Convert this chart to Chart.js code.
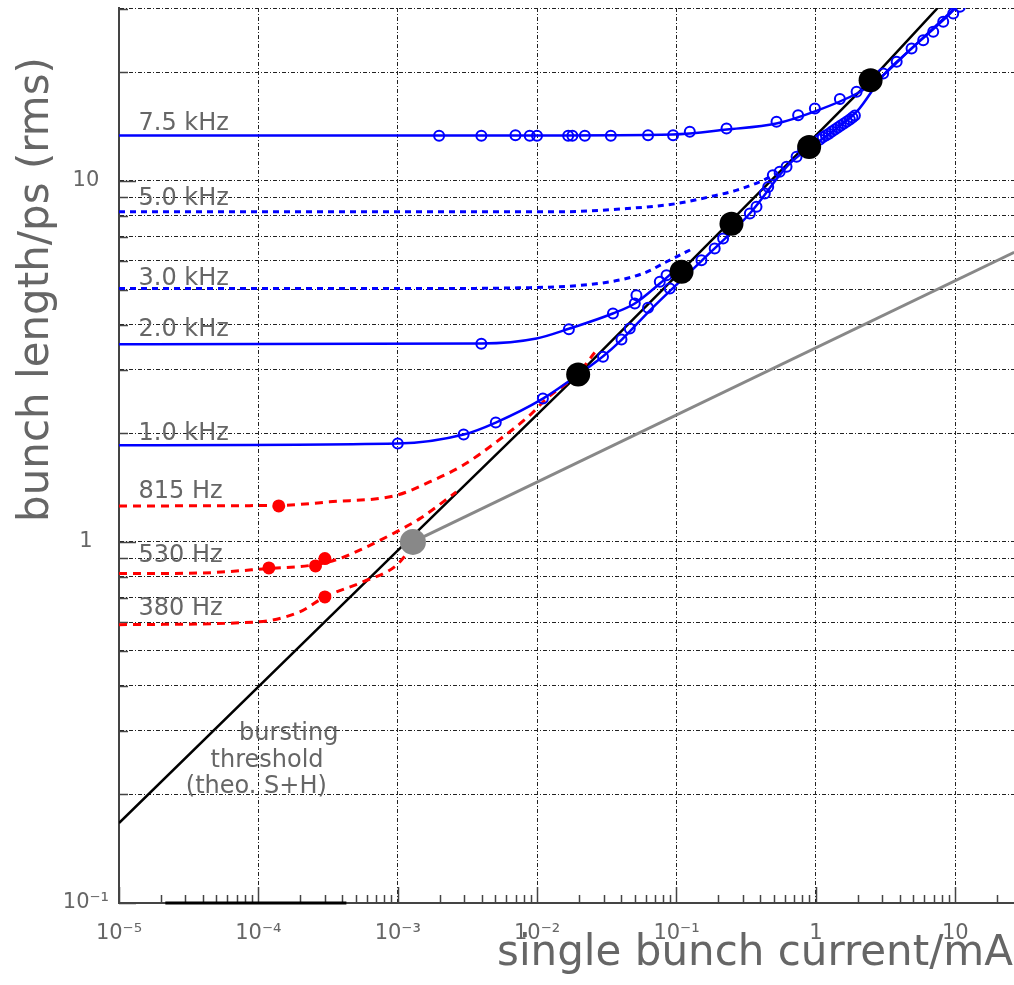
<!DOCTYPE html>
<html lang="en">
<head>
    <meta charset="UTF-8">
    <title>Bunch length vs single bunch current</title>
    <script src="https://cdn.jsdelivr.net/npm/chart.js"></script>
    <style>
        body { margin: 0; background: #fff; overflow: hidden; }
        .chart-box { width: 1014px; height: 985px; position: relative; }
    </style>
</head>
<body>
<div class="chart-box"><canvas id="bunchChart"></canvas></div>
<script>
    // axis ticks
    const xDecades = [1e-5, 1e-4, 1e-3, 1e-2, 1e-1, 1, 10];
    const xTickLabels = ['10⁻⁵', '10⁻⁴', '10⁻³', '10⁻²', '10⁻¹', '1', '10'];
    const yGridValues = [0.1, 0.2, 0.3, 0.4, 0.5, 0.6, 0.7, 0.8, 0.9,
                         1, 2, 3, 4, 5, 6, 7, 8, 9, 10, 20, 30];
    const yDecades = [0.1, 1, 10];
    const yTickLabels = ['10⁻¹', '1', '10'];

    // fitted curves, [current mA, bunch length ps]
    const curve7500 = [[1e-5, 13.35], [0.01, 13.36], [0.094, 13.44], [0.23, 13.87], [0.52, 14.41],
                       [1.02, 15.65], [1.97, 17.45], [2.57, 18.6], [3.08, 19.7], [4.89, 23.3],
                       [8.16, 27.8], [11.2, 31.4]];
    const curve5000 = [[1e-5, 8.21], [0.0145, 8.21], [0.044, 8.38], [0.1005, 8.65], [0.173, 9.03],
                       [0.271, 9.42], [0.396, 9.94], [0.508, 10.41]];
    const curve3000 = [[1e-5, 5.03], [1e-3, 5.03], [8.9e-3, 5.06], [0.0332, 5.25], [0.0576, 5.54],
                       [0.0895, 6.03], [0.131, 6.49]];
    const curve2000 = [[1e-5, 3.527], [4.0e-3, 3.543], [9.9e-3, 3.658], [0.0171, 3.898], [0.0349, 4.29],
                       [0.0502, 4.573], [0.0759, 5.194], [0.1005, 5.716]];
    const curve1000 = [[1e-5, 1.852], [1e-3, 1.872], [2.97e-3, 1.983], [5.05e-3, 2.141], [0.011, 2.494],
                       [0.0197, 2.906], [0.0296, 3.262], [0.0405, 3.634], [0.0643, 4.372], [0.152, 6.014],
                       [0.336, 8.12], [0.651, 11.17], [1.12, 13.1], [1.97, 15.56], [3.08, 19.7],
                       [4.89, 23.3], [11.2, 31.4]];
    const curve815 = [[1e-5, 1.258], [1.4e-4, 1.262], [3.24e-4, 1.291], [9.77e-4, 1.346], [1.69e-3, 1.466],
                      [2.94e-3, 1.63], [5.1e-3, 1.892], [8.85e-3, 2.242], [0.0117, 2.494], [0.0197, 2.93],
                      [0.0259, 3.347]];
    const curve530 = [[1e-5, 0.817], [3.78e-5, 0.82], [1.19e-4, 0.844], [2.57e-4, 0.865], [3.83e-4, 0.899],
                      [5.62e-4, 0.958], [9.77e-4, 1.066], [1.44e-3, 1.16], [2.63e-3, 1.375]];
    const curve380 = [[1e-5, 0.59], [9.66e-5, 0.6], [1.98e-4, 0.64], [3.0e-4, 0.704], [5.62e-4, 0.775],
                      [9.77e-4, 0.861], [1.32e-3, 0.989]];
    const thresholdLine = [[1e-5, 0.1665], [9.77e-4, 0.938], [0.0197, 2.906], [2.48, 19.0], [7.77, 30.6]];
    const grayLine = [[1.285e-3, 1.0], [26.5, 6.34]];
    const bottomBar = [[2.15e-5, 0.1], [4.28e-4, 0.1]];

    // measured points
    const bluePoints = [
        [1.98e-3, 13.33], [3.98e-3, 13.33], [6.99e-3, 13.37], [8.85e-3, 13.33], [9.98e-3, 13.33],
        [0.0167, 13.33], [0.0179, 13.33], [0.022, 13.33], [0.0338, 13.33], [0.0625, 13.37],
        [0.0945, 13.37], [0.1246, 13.67], [0.2285, 13.96], [0.522, 14.57], [0.746, 15.19],
        [0.984, 15.86], [1.487, 16.85], [1.96, 17.64],
        [3.98e-3, 3.54], [0.0169, 3.88], [0.035, 4.29], [0.0502, 4.57], [0.0516, 4.82],
        [0.0759, 5.25], [0.0848, 5.48],
        [1.0e-3, 1.872], [2.97e-3, 1.983], [5.05e-3, 2.141], [0.011, 2.494],
        [0.0297, 3.254], [0.0403, 3.634], [0.0462, 3.898], [0.0625, 4.448], [0.0895, 5.03],
        [0.151, 6.03], [0.188, 6.49], [0.216, 6.92], [0.336, 8.12], [0.375, 8.47], [0.43, 9.22],
        [0.455, 9.62], [0.491, 10.36], [0.55, 10.59], [0.616, 10.94], [0.727, 11.66], [0.811, 12.16],
        [1.068, 13.02], [1.12, 13.2], [1.18, 13.35], [1.24, 13.5], [1.303, 13.7], [1.37, 13.88],
        [1.439, 14.05], [1.51, 14.22], [1.589, 14.41], [1.67, 14.6], [1.754, 14.79], [1.83, 14.98],
        [1.905, 15.17],
        [3.04, 19.83], [3.8, 21.36], [4.86, 23.26], [5.89, 24.52], [6.95, 25.86], [8.2, 27.57],
        [9.67, 29.06], [10.8, 30.34]
    ];
    const redPoints = [[1.40e-4, 1.258], [1.19e-4, 0.847], [2.57e-4, 0.858], [3.0e-4, 0.899], [3.0e-4, 0.704]];
    const blackPoints = [[0.0197, 2.906], [0.1087, 5.60], [0.248, 7.60], [0.895, 12.4], [2.47, 19.0]];
    const grayPoint = [[1.285e-3, 1.0]];

    const FONT = "'DejaVu Sans', sans-serif";
    const TEXT_GRAY = '#666';

    const toXY = arr => arr.map(([x, y]) => ({ x: x, y: y }));

    function curve(points, color, dash, width) {
        return {
            data: toXY(points),
            showLine: true,
            borderColor: color,
            borderWidth: width,
            borderDash: dash,
            pointRadius: 0,
            cubicInterpolationMode: 'monotone',
            fill: false,
            order: 3
        };
    }

    // in-plot labels (anchored in data coordinates)
    const curveLabels = [
        { text: '7.5 kHz', x: 1.38e-5, y: 14.4 },
        { text: '5.0 kHz', x: 1.38e-5, y: 8.93 },
        { text: '3.0 kHz', x: 1.38e-5, y: 5.36 },
        { text: '2.0 kHz', x: 1.38e-5, y: 3.86 },
        { text: '1.0 kHz', x: 1.38e-5, y: 1.995 },
        { text: '815 Hz', x: 1.38e-5, y: 1.375 },
        { text: '530 Hz', x: 1.38e-5, y: 0.918 },
        { text: '380 Hz', x: 1.38e-5, y: 0.653 }
    ];
    const thresholdLabel = [
        { text: 'bursting', x: 1.652e-4, y: 0.2944 },
        { text: 'threshold', x: 1.155e-4, y: 0.2483 },
        { text: '(theo. S+H)', x: 9.66e-5, y: 0.2096 }
    ];

    const textLabels = {
        id: 'textLabels',
        afterDatasetsDraw(chart) {
            const { ctx, scales: { x, y } } = chart;
            ctx.save();
            ctx.fillStyle = TEXT_GRAY;
            ctx.font = '24px ' + FONT;
            ctx.textBaseline = 'middle';
            ctx.textAlign = 'left';
            curveLabels.forEach(l => ctx.fillText(l.text, x.getPixelForValue(l.x), y.getPixelForValue(l.y)));
            ctx.textAlign = 'center';
            thresholdLabel.forEach(l => ctx.fillText(l.text, x.getPixelForValue(l.x), y.getPixelForValue(l.y)));
            ctx.restore();
        }
    };

    // small tick marks drawn inside the frame, ROOT style
    const innerTicks = {
        id: 'innerTicks',
        beforeDatasetsDraw(chart) {
            const { ctx, chartArea, scales: { x, y } } = chart;
            ctx.save();
            ctx.strokeStyle = '#444';
            ctx.lineWidth = 1.5;
            ctx.beginPath();
            xDecades.forEach(d => {
                for (let m = 1; m <= 9; m++) {
                    const v = d * m;
                    if (v < x.min || v > x.max) continue;
                    const px = Math.round(x.getPixelForValue(v)) + 0.5;
                    ctx.moveTo(px, chartArea.bottom);
                    ctx.lineTo(px, chartArea.bottom - (m === 1 ? 16 : 8));
                }
            });
            yGridValues.forEach(v => {
                const py = Math.round(y.getPixelForValue(v)) + 0.5;
                const len = yDecades.includes(v) ? 17 : 9;
                ctx.moveTo(chartArea.left, py);
                ctx.lineTo(chartArea.left + len, py);
            });
            ctx.stroke();
            ctx.restore();
        }
    };

    const axisTitles = {
        id: 'axisTitles',
        afterDraw(chart) {
            const { ctx } = chart;
            ctx.save();
            ctx.fillStyle = TEXT_GRAY;
            ctx.font = '42px ' + FONT;
            ctx.textBaseline = 'alphabetic';
            ctx.textAlign = 'right';
            ctx.fillText('single bunch current/mA', 1013, 965);
            ctx.translate(48, 57);
            ctx.rotate(-Math.PI / 2);
            ctx.fillText('bunch length/ps (rms)', 0, 0);
            ctx.restore();
        }
    };

    new Chart(document.getElementById('bunchChart'), {
        type: 'scatter',
        data: {
            datasets: [
                { data: toXY(blackPoints), pointRadius: 12, pointBackgroundColor: '#000', pointBorderWidth: 0, order: 0 },
                { data: toXY(grayPoint), pointRadius: 13, pointBackgroundColor: '#888', pointBorderWidth: 0, order: 0 },
                { data: toXY(redPoints), pointRadius: 6.5, pointBackgroundColor: '#ff0000', pointBorderWidth: 0, order: 1 },
                { data: toXY(bluePoints), pointRadius: 5, pointBackgroundColor: 'rgba(0,0,0,0)',
                  pointBorderColor: '#0000ff', pointBorderWidth: 2, order: 2 },
                curve(curve7500, '#0000ff', [], 2.5),
                curve(curve5000, '#0000ff', [6, 5], 3),
                curve(curve3000, '#0000ff', [6, 5], 3),
                curve(curve2000, '#0000ff', [], 2.5),
                curve(curve1000, '#0000ff', [], 2.5),
                curve(curve815, '#ff0000', [8, 6], 3),
                curve(curve530, '#ff0000', [8, 6], 3),
                curve(curve380, '#ff0000', [8, 6], 3),
                { data: toXY(thresholdLine), showLine: true, borderColor: '#000', borderWidth: 2.5,
                  pointRadius: 0, order: 3 },
                { data: toXY(grayLine), showLine: true, borderColor: '#888', borderWidth: 3,
                  pointRadius: 0, order: 3 },
                { data: toXY(bottomBar), showLine: true, borderColor: '#000', borderWidth: 3,
                  pointRadius: 0, clip: false, order: 3 }
            ]
        },
        options: {
            responsive: true,
            maintainAspectRatio: false,
            animation: false,
            layout: { autoPadding: false, padding: { top: 8, right: 0, bottom: 0, left: 0 } },
            plugins: {
                legend: { display: false },
                tooltip: { enabled: false }
            },
            scales: {
                x: {
                    type: 'logarithmic',
                    min: 1e-5,
                    max: 26.4,
                    afterBuildTicks: s => { s.ticks = xDecades.map(v => ({ value: v })); },
                    afterFit: s => { s.height = 82; s.paddingLeft = 0; s.paddingRight = 0; },
                    ticks: {
                        autoSkip: false,
                        maxRotation: 0,
                        padding: 18,
                        color: TEXT_GRAY,
                        font: { family: FONT, size: 21 },
                        callback: v => {
                            const i = xDecades.indexOf(v);
                            return i >= 0 ? xTickLabels[i] : '';
                        }
                    },
                    grid: { color: '#222', lineWidth: 1, drawTicks: false },
                    border: { color: '#444', width: 2, dash: [4, 2, 1, 2] }
                },
                y: {
                    type: 'logarithmic',
                    min: 0.1,
                    max: 30.1,
                    afterBuildTicks: s => { s.ticks = yGridValues.map(v => ({ value: v })); },
                    afterFit: s => { s.width = 119; s.paddingTop = 0; s.paddingBottom = 0; },
                    ticks: {
                        autoSkip: false,
                        padding: 10,
                        crossAlign: 'center',
                        color: TEXT_GRAY,
                        font: { family: FONT, size: 21 },
                        callback: v => {
                            const i = yDecades.indexOf(v);
                            return i >= 0 ? yTickLabels[i] : '';
                        }
                    },
                    grid: { color: '#222', lineWidth: 1, drawTicks: false },
                    border: { color: '#444', width: 2, dash: [4, 2, 1, 2] }
                }
            }
        },
        plugins: [innerTicks, textLabels, axisTitles]
    });
</script>
</body>
</html>
